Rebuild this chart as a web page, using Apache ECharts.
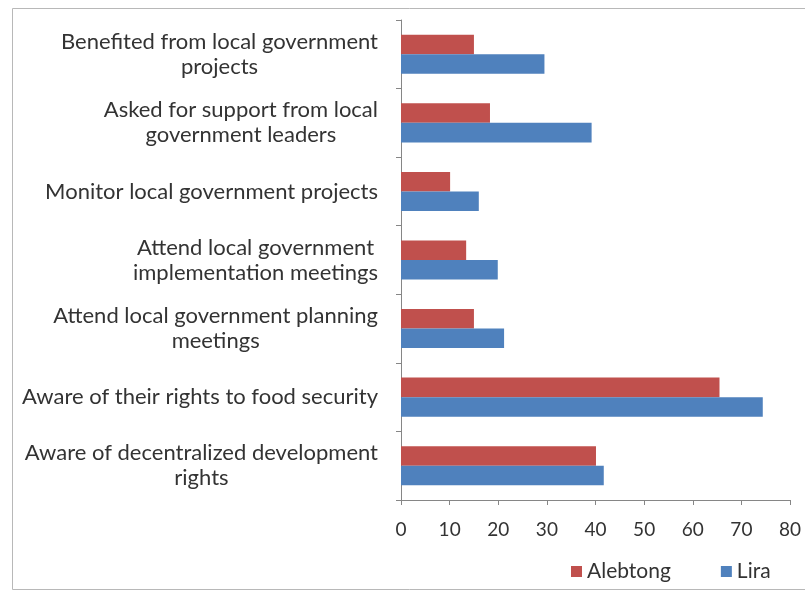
<!DOCTYPE html>
<html>
<head>
<meta charset="utf-8">
<script src="https://cdn.jsdelivr.net/npm/echarts@6/dist/echarts.min.js"></script>
<style>
  html, body { margin: 0; padding: 0; background: #ffffff; }
  #chart { width: 805px; height: 590px; }
</style>
</head>
<body>
<div id="chart"></div>
<script>
// Categories listed top to bottom; "\n" marks the line breaks in each label
const categories = [
  'Benefited from local government\nprojects',
  'Asked for support from local\ngovernment leaders',
  'Monitor local government projects',
  'Attend local government\nimplementation meetings',
  'Attend local government planning\nmeetings',
  'Aware of their rights to food security',
  'Aware of decentralized development\nrights'
];
const seriesNames = ['Alebtong', 'Lira'];
const alebtong = [15.0, 18.3, 10.1, 13.4, 15.0, 65.5, 40.1];
const lira = [29.5, 39.2, 16.0, 19.9, 21.2, 74.4, 41.7];
const xTicks = { min: 0, max: 80, interval: 10 };

const FONT = 'Lato, "Open Sans", sans-serif';
const TEXT = '#333333';
const LABEL_SIZE = 22;

const chart = echarts.init(document.getElementById('chart'), null, { renderer: 'canvas' });

chart.setOption({
  backgroundColor: '#ffffff',
  animation: false,
  graphic: [{
    type: 'rect',
    left: 10, top: 6,
    shape: { width: 800, height: 581 },
    style: { fill: 'none', stroke: '#b8b8b8', lineWidth: 1 },
    silent: true
  }],
  grid: { left: 401, right: 15, top: 20, bottom: 90, containLabel: false },
  legend: {
    data: seriesNames,
    left: 566, top: 556,
    icon: 'rect',
    itemWidth: 11, itemHeight: 11,
    itemGap: 50,
    itemStyle: { borderWidth: 0 },
    textStyle: { fontFamily: FONT, fontSize: 21, color: TEXT }
  },
  xAxis: {
    type: 'value',
    min: xTicks.min, max: xTicks.max, interval: xTicks.interval,
    axisLine: { show: true, lineStyle: { color: '#868686', width: 1 } },
    axisTick: { show: true, length: 5, lineStyle: { color: '#868686' } },
    splitLine: { show: false },
    axisLabel: { fontFamily: FONT, fontSize: 19, color: TEXT, margin: 20 }
  },
  yAxis: {
    type: 'category',
    inverse: true,
    data: categories,
    axisLine: { show: true, lineStyle: { color: '#868686', width: 1 } },
    axisTick: { show: true, length: 5, alignWithLabel: false, lineStyle: { color: '#868686' } },
    axisLabel: {
      margin: 23,
      fontFamily: FONT, fontSize: LABEL_SIZE, color: TEXT,
      lineHeight: 25,
      formatter: function (v) {
        return v.split('\n').map(function (l) { return '{c|' + l + '}'; }).join('\n');
      },
      rich: {
        c: { align: 'center', fontFamily: FONT, fontSize: LABEL_SIZE, color: TEXT, lineHeight: 25 }
      }
    }
  },
  series: [
    {
      name: seriesNames[0], type: 'bar', data: alebtong,
      barGap: '0%', barCategoryGap: '43%',
      itemStyle: { color: '#C0504D' }
    },
    {
      name: seriesNames[1], type: 'bar', data: lira,
      barGap: '0%', barCategoryGap: '43%',
      itemStyle: { color: '#4F81BD' }
    }
  ]
});
</script>
</body>
</html>
